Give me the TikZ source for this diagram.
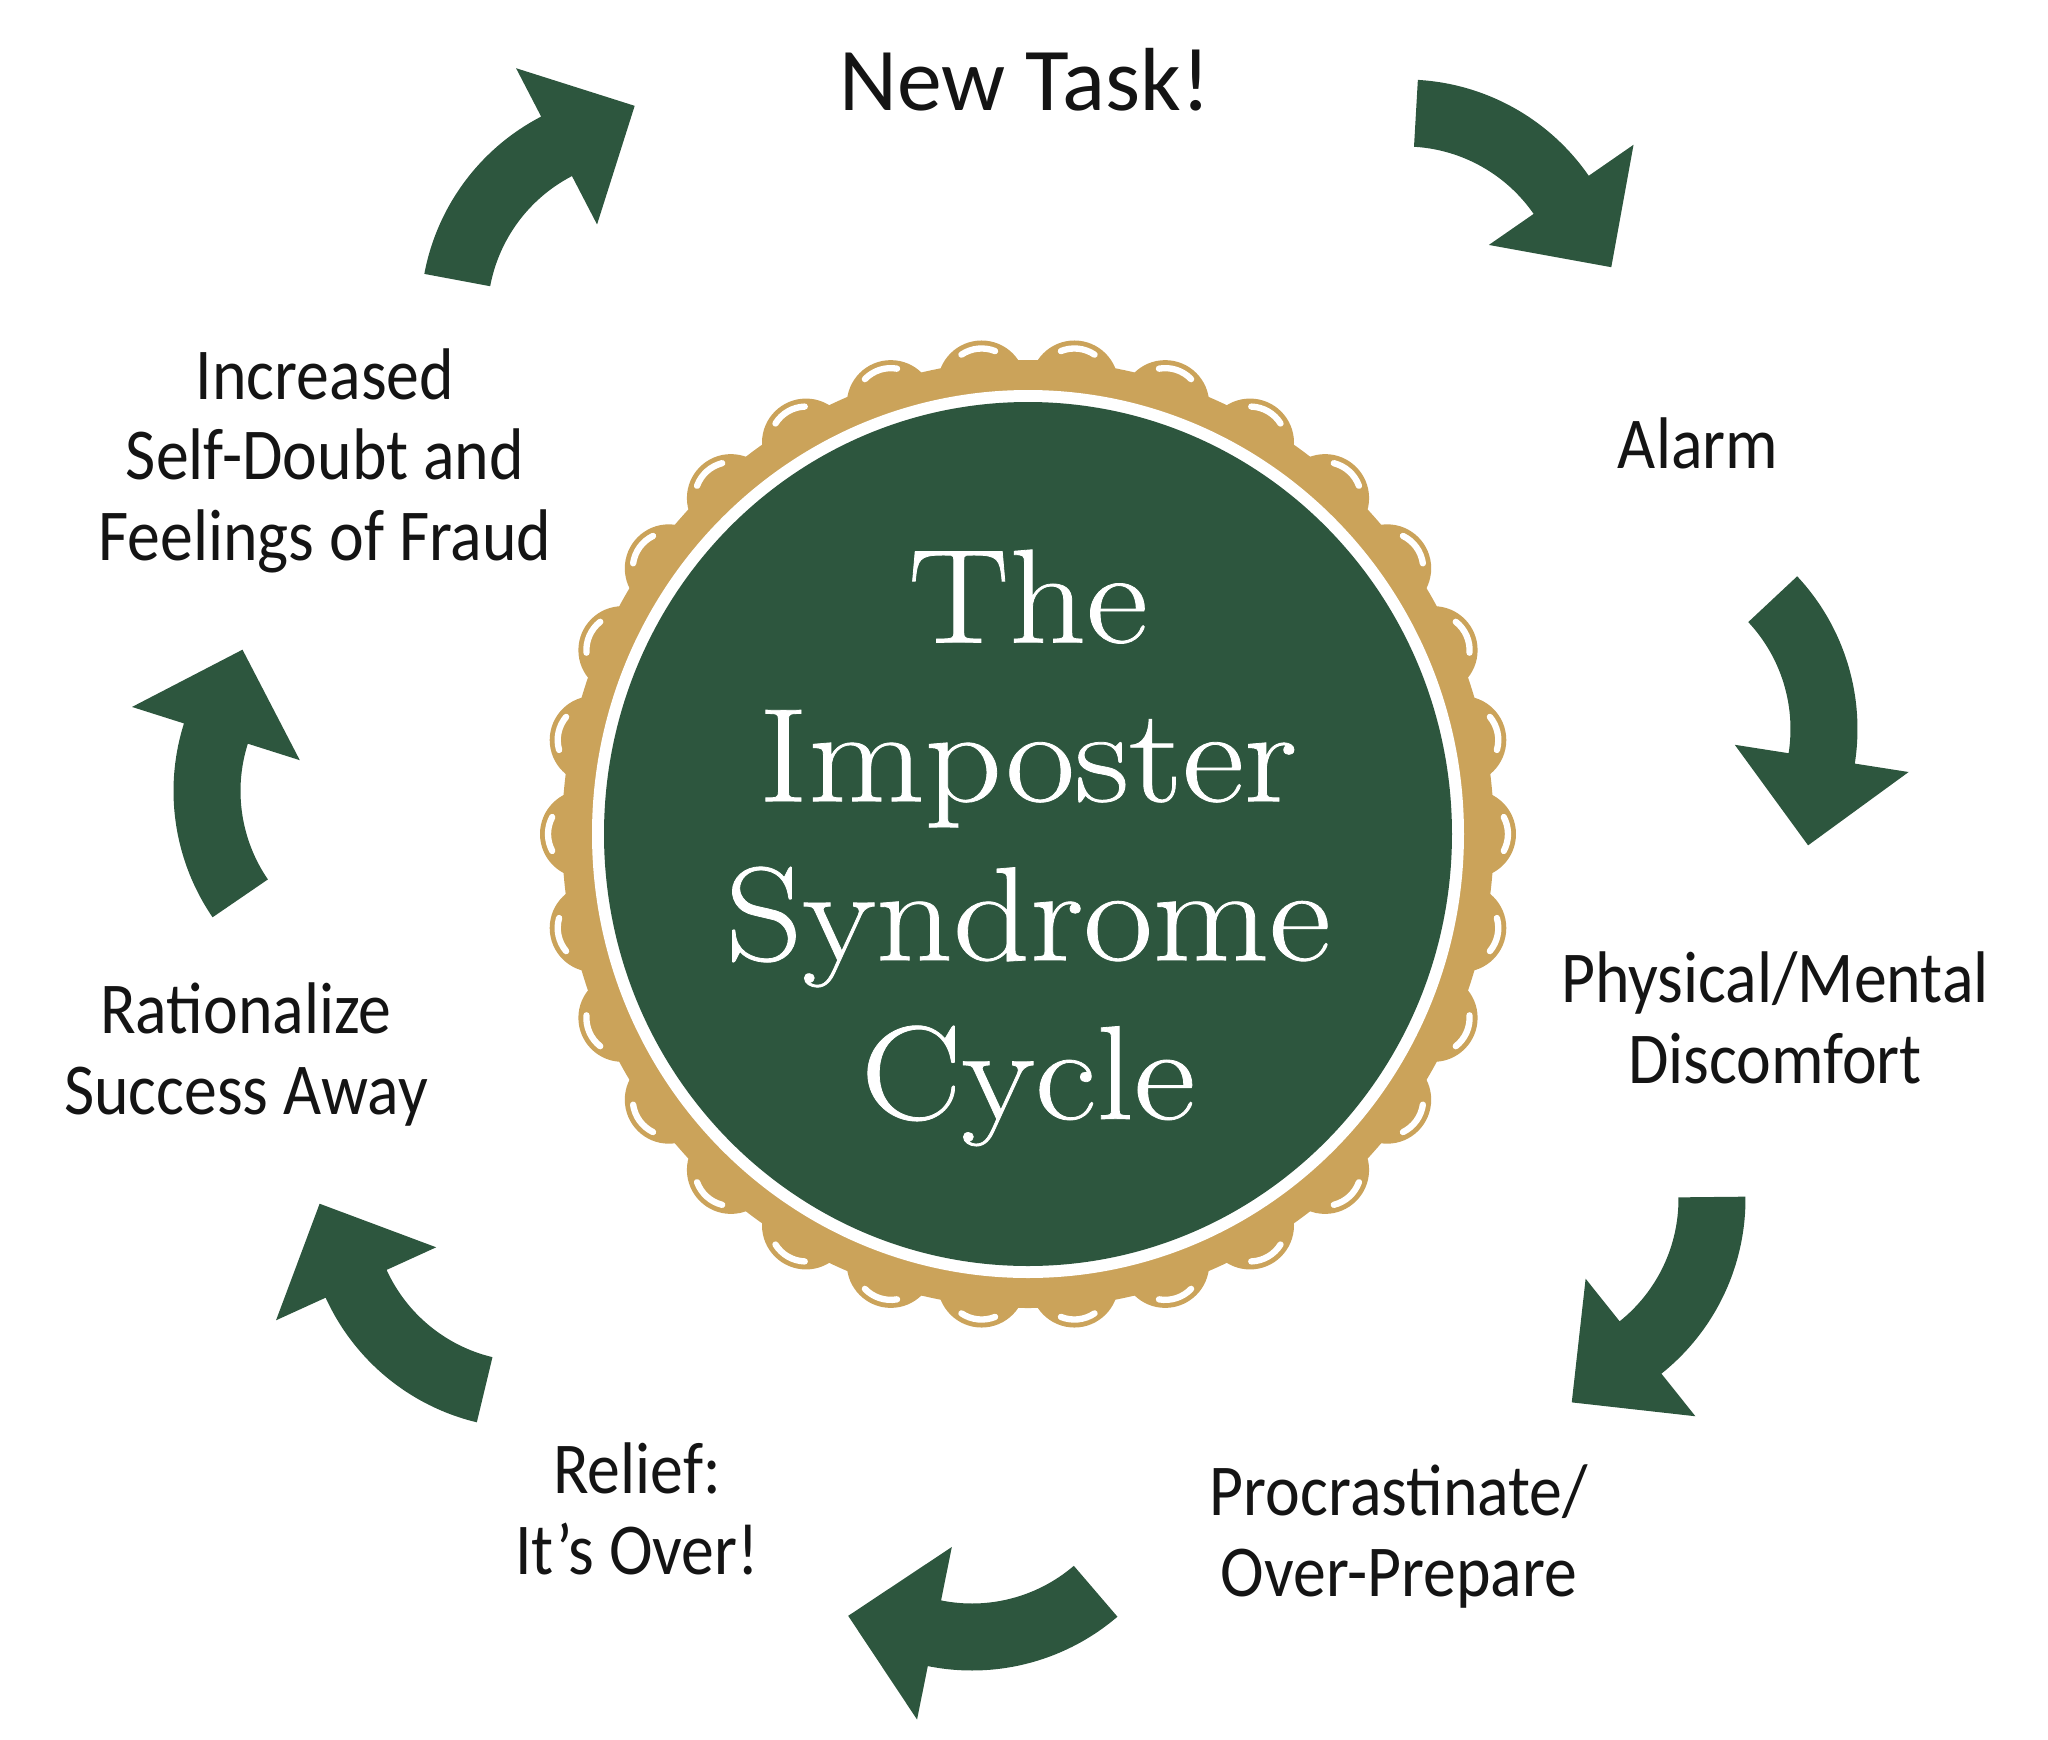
\documentclass[tikz,border=0pt]{standalone}
\usepackage{fontspec}
\setsansfont{Carlito}[FakeStretch=0.9]
\newfontfamily\taskfont{Carlito}
\newfontfamily\titlefont{Latin Modern Roman}[FakeStretch=1.13, FakeBold=0.6]
\usepackage{tikz}

\definecolor{forest}{RGB}{45,86,62}
\definecolor{ochre}{RGB}{203,163,90}
\definecolor{ink}{RGB}{20,20,20}

% one curved block arrow, drawn round its own centre of curvature
\tikzset{
    cycle arrow/.pic={
        \fill[forest] (116:2.235) arc[start angle=116, end angle=64, radius=2.235]
            -- (64:2.78) -- (39.15:2.094) -- (64:1.02) -- (64:1.565)
            arc[start angle=64, end angle=116, radius=1.565] -- cycle;
    }
}

\begin{document}
\begin{tikzpicture}[
    step label/.style={
        align=center, anchor=base, inner sep=0pt, text=ink,
        font=\sffamily\fontsize{20.8}{22.8}\selectfont
    },
    title text/.style={
        align=center, anchor=base, inner sep=0pt, text=white,
        font=\titlefont\fontsize{38}{45.2}\selectfont
    }
]
    \useasboundingbox (0,0) rectangle (20.48,-17.40);
    \coordinate (c) at (10.28,-8.34);

    % badge: scalloped gold rim, white gap, green disc
    \foreach \a in {0,12,...,348}
        \fill[ochre] (c) ++({4.44*cos(\a)},{4.52*sin(\a)}) circle (0.44);
    \fill[ochre] (c) ellipse [x radius=4.66, y radius=4.74];
    \foreach \a in {0,12,...,348}
        \draw[white, line width=1.8pt, line cap=round]
            (c) ++({4.44*cos(\a)},{4.52*sin(\a)}) ++(\a-28:0.36)
            arc[start angle=\a-28, end angle=\a+28, radius=0.36];
    \fill[white] (c) ellipse [x radius=4.36, y radius=4.44];
    \fill[forest] (c) ellipse [x radius=4.24, y radius=4.32];
    \node[title text] (title) at (10.28,-11.19) {The\\Imposter\\Syndrome\\Cycle};

    % the steps
    \node[step label, font=\taskfont\fontsize{25.5}{28}\selectfont] (task) at (10.25,-1.10) {New Task!};
    \node[step label] (alarm) at (16.98,-4.68) {Alarm};
    \node[step label] (discomfort) at (17.75,-10.83) {Physical/Mental\\Discomfort};
    \node[step label] (procrastinate) at (13.99,-15.96) {Procrastinate/\\Over-Prepare};
    \node[step label] (relief) at (6.37,-15.74) {Relief:\\It’s Over!};
    \node[step label] (rationalize) at (2.46,-11.14) {Rationalize\\Success Away};
    \node[step label] (doubt) at (3.25,-5.60) {Increased\\Self-Doubt and\\Feelings of Fraud};

    % arrows between the steps
    \pic[rotate=-29.3] at (14.05,-3.03) {cycle arrow};
    \pic[rotate=-72.9] at (16.34,-7.29) {cycle arrow};
    \pic[rotate=-115.4] at (15.22,-11.99) {cycle arrow};
    \pic[rotate=-165.4] at (9.72,-14.47) {cycle arrow};
    \pic[rotate=140.5] at (5.29,-12.05) {cycle arrow};
    \pic[rotate=98.4] at (3.97,-7.91) {cycle arrow};
    \pic[rotate=53.4] at (6.44,-3.15) {cycle arrow};
\end{tikzpicture}
\end{document}
